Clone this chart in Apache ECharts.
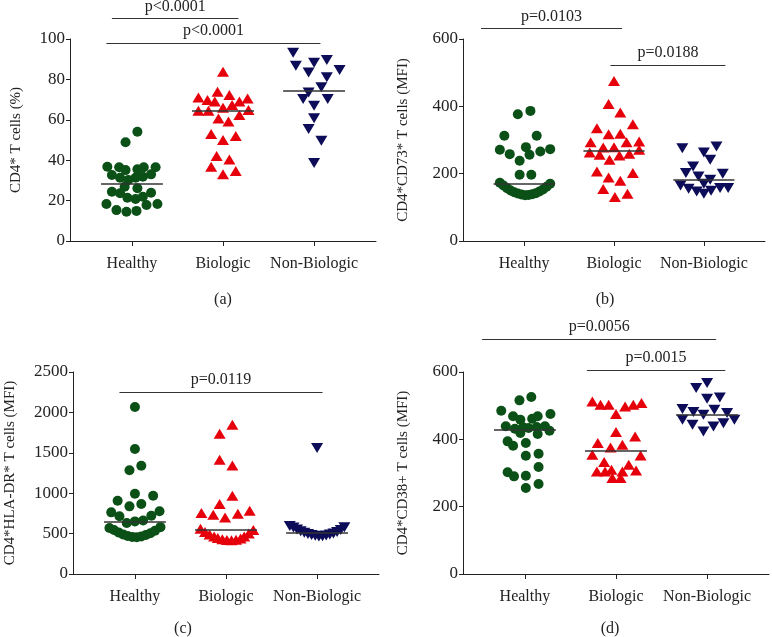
<!DOCTYPE html>
<html><head><meta charset="utf-8">
<script src="https://cdn.jsdelivr.net/npm/echarts@6/dist/echarts.min.js"></script>
<style>html,body{margin:0;padding:0;background:#fff}#c{width:772px;height:637px}</style>
</head><body><div id="c"></div>
<script>
// ---------- data ----------
const categories = ['Healthy', 'Biologic', 'Non-Biologic'];

// (a) CD4+ T cells (%)
const aHealthyX = [1.06,0.93,0.73,0.86,0.93,1.06,1.13,1.26,0.78,0.87,0.96,1.04,1.12,1.21,0.92,1.06,0.78,0.87,1.21,0.95,1.04,1.12,0.72,1.16,1.28,0.83,0.94,1.05];
const aHealthyY = [54.1,48.9,36.8,36.5,35.1,35.5,36.5,36.5,32.7,31.3,30.2,31.3,31.8,33,26.9,26.1,24.4,23.6,23.9,21.4,20.8,21.9,18.3,17.8,18.3,15.3,14.5,14.9];
const aBioX = [2.0,1.73,1.83,1.94,1.91,2.07,2.18,2.27,1.73,1.84,2.0,2.1,2.28,1.95,2.06,2.18,1.87,2.14,2.0,1.93,2.07,1.87,2.14,2.0];
const aBioY = [83.8,71.1,69.8,73.9,69,72.3,69,70.6,64.5,64.5,66,67.3,64.9,60.7,59.1,62.4,53,52,50,42.1,40.4,36.8,34.7,33];
const aNonX = [2.77,2.80,3.0,3.14,3.28,2.94,3.14,3.08,2.94,2.88,3.15,3.0,3.0,2.94,3.08,3.0];
const aNonY = [93.2,86.7,88.3,89.6,84.7,83.4,81.1,76.1,73.5,70.3,70.3,66.9,60.8,55.4,49.6,38.6];
const aMedians = [28.1, 64.7, 74.4];

// (b) CD4+CD73+ T cells (MFI)
const bHealthyX = [1.07,0.93,0.78,1.14,0.73,0.84,1.02,1.06,1.18,1.29,0.95,0.95,1.08,0.73,0.77,0.81,0.85,0.89,0.93,0.97,1.01,1.05,1.09,1.13,1.17,1.21,1.25,1.29];
const bHealthyY = [386.5,376.6,312.4,312.4,270.8,258,278.8,256,266,272.8,238.2,196.7,196.7,173,165,157,150,145,141,138,136,137,139,142,147,153,161,170];
const bBioX = [2.0,1.94,2.07,2.21,1.81,1.94,2.07,1.74,2.14,2.28,1.88,2.0,1.73,1.84,1.95,2.06,2.17,2.28,1.81,2.21,1.94,2.07,1.88,2.15,2.01];
const bBioY = [475.5,407.3,381.6,347,335,317.3,318.3,293.6,293.6,295.6,277.8,278.8,263,256,241.2,254,259,270.8,206.6,201.7,188.8,179,154.2,140.4,130.5];
const bNonX = [2.76,3.14,3.0,3.07,2.88,2.80,2.94,3.21,3.07,3.0,2.74,2.83,2.92,3.0,3.08,3.18,3.27];
const bNonY = [275.8,280.7,263,241.2,221.4,201.7,191.8,199.7,181.9,170,165,155.2,147.3,140.4,149.3,157.2,157.2];
const bMedians = [169, 269, 182];

// (c) CD4+HLA-DR+ T cells (MFI)
const cHealthyX = [1.0,1.0,1.07,0.94,1.0,0.81,1.20,0.94,1.07,0.74,0.83,1.27,1.18,0.91,1.0,1.09,0.72,0.77,0.82,0.87,0.92,0.97,1.02,1.07,1.12,1.17,1.22,1.28];
const cHealthyY = [2066,1547,1340,1283,994,907,969,837,866,763,714,776,722,631,651,663,570,545,515,490,470,458,455,465,482,505,535,580];
const cBioX = [2.07,1.93,1.93,2.07,2.07,1.93,1.73,1.86,1.99,2.13,2.26,1.72,1.77,1.82,1.87,1.91,1.96,2.01,2.06,2.11,2.16,2.20,2.25,2.30];
const cBioY = [1848,1736,1415,1344,969,866,755,734,700,746,783,560,520,490,465,445,430,420,418,425,440,465,500,545];
const cNonX = [3.0,2.70,2.74,2.78,2.82,2.86,2.90,2.94,2.98,3.02,3.06,3.10,3.14,3.18,3.22,3.26,3.30];
const cNonY = [1559,595,575,550,530,510,495,482,472,465,468,475,488,502,520,545,580];
const cMedians = [648, 549, 507];

// (d) CD4+CD38+ T cells (MFI)
const dHealthyX = [1.07,0.94,0.74,0.87,0.95,1.08,1.14,1.28,0.79,0.89,0.98,0.95,1.04,1.13,1.22,1.27,1.14,0.81,0.87,1.01,1.01,1.15,1.15,0.81,0.88,1.01,1.15,1.01];
const dHealthyY = [525.7,515.8,485,468.3,458.4,461.3,468.3,475.2,438.6,431.6,435.6,418.8,433.6,436.6,438.6,425.7,415.8,394,381.2,389,351.5,357.4,317.8,302,290,292,267.3,255.4];
const dBioX = [1.74,1.83,1.92,2.0,2.10,2.19,2.28,2.0,2.21,1.80,2.07,1.94,1.74,2.27,1.87,1.79,1.88,1.95,1.96,2.05,2.07,2.14,2.22];
const dBioY = [512.7,502.8,502.8,475.2,497.8,502.8,507.9,421.7,408.7,389,384,376,354,352,332.6,304.7,304.7,309.8,285,285,304.7,324.6,307.7];
const dNonX = [2.88,3.0,3.0,3.14,2.73,2.85,2.96,3.08,3.22,2.73,2.84,2.96,3.07,3.18,3.30];
const dNonY = [552.4,567.3,520.6,524.6,490,481,473,488,478,458,443,423.5,438,448,458.4];
const dMedians = [428.7, 366.3, 473.2];

// y-axis ticks
const aTicks = [0, 20, 40, 60, 80, 100];
const bTicks = [0, 200, 400, 600];
const cTicks = [0, 500, 1000, 1500, 2000, 2500];
const dTicks = [0, 200, 400, 600];

// significance annotations: [xStart, xEnd, yLevel, text]
const sigA = [[0.78, 2.17, 110.2, 'p<0.0001'], [0.72, 3.07, 98.0, 'p<0.0001']];
const sigB = [[0.52, 2.09, 631.7, 'p=0.0103'], [1.96, 3.24, 522.7, 'p=0.0188']];
const sigC = [[0.83, 3.06, 2252, 'p=0.0119']];
const sigD = [[0.53, 3.10, 698, 'p=0.0056'], [1.68, 3.20, 606.8, 'p=0.0015']];

const yNames = ['CD4* T cells (%)', 'CD4*CD73* T cells (MFI)', 'CD4*HLA-DR* T cells (MFI)', 'CD4*CD38+ T cells (MFI)'];
const panelLabels = ['(a)', '(b)', '(c)', '(d)'];

// ---------- layout / style ----------
const FONT = 'Liberation Serif';
const colors = ['#0b5016', '#e6000b', '#0c0c58'];
const grids = [
  {left: 70, top: 39, width: 306, height: 202},
  {left: 463, top: 39, width: 302, height: 202},
  {left: 73, top: 372, width: 306, height: 202},
  {left: 463, top: 372, width: 306, height: 202}
];
const nameGaps = [46, 52, 55, 52];
const labelPos = [[223, 300], [605, 300], [183, 629], [610, 629]];
const ticksAll = [aTicks, bTicks, cTicks, dTicks];
const groupsAll = [
  [[aHealthyX, aHealthyY], [aBioX, aBioY], [aNonX, aNonY]],
  [[bHealthyX, bHealthyY], [bBioX, bBioY], [bNonX, bNonY]],
  [[cHealthyX, cHealthyY], [cBioX, cBioY], [cNonX, cNonY]],
  [[dHealthyX, dHealthyY], [dBioX, dBioY], [dNonX, dNonY]]
];
const mediansAll = [aMedians, bMedians, cMedians, dMedians];
const sigAll = [sigA, sigB, sigC, sigD];

const xAxes = [], yAxes = [], series = [];
grids.forEach((g, i) => {
  xAxes.push({
    type: 'value', gridIndex: i, min: 0.32, max: 3.68,
    axisLine: {show: true, lineStyle: {color: '#222', width: 1}},
    axisTick: {show: true, length: 5, customValues: [1, 2, 3], lineStyle: {color: '#222'}},
    axisLabel: {show: true, customValues: [1, 2, 3], margin: 15,
      formatter: v => categories[Math.round(v) - 1],
      fontFamily: FONT, fontSize: 16, color: '#222'},
    splitLine: {show: false}
  });
  const t = ticksAll[i];
  yAxes.push({
    type: 'value', gridIndex: i, min: t[0], max: t[t.length - 1], interval: t[1] - t[0],
    name: yNames[i], nameLocation: 'middle', nameGap: nameGaps[i],
    nameTextStyle: {fontFamily: FONT, fontSize: 15, color: '#222'},
    axisLine: {show: true, lineStyle: {color: '#222', width: 1}},
    axisTick: {show: true, length: 4, lineStyle: {color: '#222'}},
    axisLabel: {fontFamily: FONT, fontSize: 17, color: '#222', margin: 5,
      formatter: v => String(v)},
    splitLine: {show: false}
  });
  groupsAll[i].forEach((grp, k) => {
    const pts = grp[0].map((x, j) => [x, grp[1][j]]);
    const m = mediansAll[i][k];
    series.push({
      type: 'scatter', xAxisIndex: i, yAxisIndex: i, data: pts,
      symbol: k === 0 ? 'circle' : 'triangle',
      symbolSize: k === 0 ? 10 : [12, 10],
      symbolRotate: k === 2 ? 180 : 0,
      itemStyle: {color: colors[k], opacity: 1},
      silent: true, z: 2,
      markLine: {
        silent: true, symbol: 'none', animation: false, z: 3,
        label: {show: false},
        lineStyle: {color: '#333', width: 1.5, type: 'solid'},
        data: [[{coord: [k + 1 - 0.34, m]}, {coord: [k + 1 + 0.34, m]}]]
      }
    });
  });
});

const chart = echarts.init(document.getElementById('c'), null, {renderer: 'canvas'});
chart.setOption({
  animation: false,
  backgroundColor: '#fff',
  grid: grids,
  xAxis: xAxes,
  yAxis: yAxes,
  series: series
});

// annotations
const graphic = [];
sigAll.forEach((list, i) => {
  list.forEach(s => {
    const p1 = chart.convertToPixel({gridIndex: i}, [s[0], s[2]]);
    const p2 = chart.convertToPixel({gridIndex: i}, [s[1], s[2]]);
    graphic.push({type: 'line', silent: true,
      shape: {x1: p1[0], y1: Math.round(p1[1]) + 0.5, x2: p2[0], y2: Math.round(p1[1]) + 0.5},
      style: {stroke: '#333', lineWidth: 1}});
    graphic.push({type: 'text', silent: true, x: (p1[0] + p2[0]) / 2, y: p1[1] - 4,
      style: {text: s[3], fontFamily: FONT, fontSize: 16, fill: '#222', textAlign: 'center', textVerticalAlign: 'bottom'}});
  });
});
panelLabels.forEach((t, i) => {
  graphic.push({type: 'text', silent: true, x: labelPos[i][0], y: labelPos[i][1],
    style: {text: t, fontFamily: FONT, fontSize: 16, fill: '#222', textAlign: 'center', textVerticalAlign: 'middle'}});
});
chart.setOption({graphic: graphic});
</script>
</body></html>
